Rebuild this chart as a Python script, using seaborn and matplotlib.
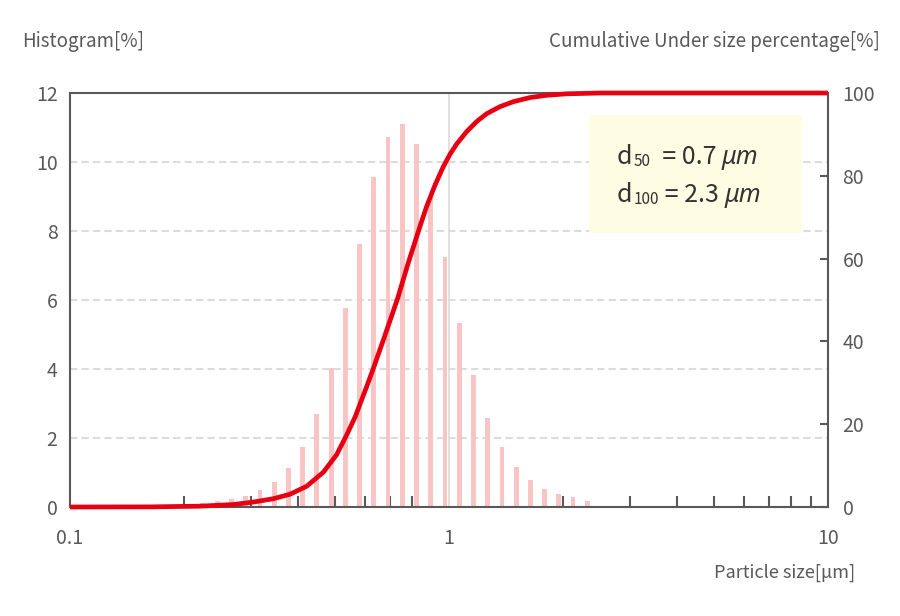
import numpy as np
import matplotlib
matplotlib.use("Agg")
import matplotlib.pyplot as plt
import seaborn as sns
from matplotlib.patches import Rectangle
from matplotlib.ticker import LogLocator, NullFormatter, FixedLocator, FixedFormatter

# histogram bins (particle size in um) and frequency in %
sizes = [0.224, 0.245, 0.267, 0.291, 0.317, 0.346, 0.377, 0.411, 0.448, 0.489,
         0.533, 0.581, 0.633, 0.690, 0.753, 0.821, 0.895, 0.976, 1.064, 1.160,
         1.265, 1.379, 1.504, 1.640, 1.788, 1.949, 2.125, 2.317]
hist_pct = [0.11, 0.18, 0.23, 0.33, 0.49, 0.73, 1.12, 1.75, 2.70, 4.02,
            5.78, 7.62, 9.56, 10.72, 11.10, 10.51, 8.99, 7.26, 5.34, 3.82,
            2.59, 1.73, 1.16, 0.79, 0.53, 0.38, 0.29, 0.17]

# cumulative under size curve
cum_size = [0.1, 0.163, 0.220, 0.270, 0.305, 0.344, 0.381, 0.421, 0.466, 0.505,
            0.537, 0.565, 0.606, 0.626, 0.675, 0.732, 0.781, 0.835, 0.873, 0.919,
            0.966, 1.006, 1.048, 1.114, 1.183, 1.257, 1.363, 1.478, 1.636, 1.811,
            2.045, 2.503, 10.0]
cum_pct = [0.0, 0.03, 0.2, 0.6, 1.2, 2.0, 3.1, 5.0, 8.4, 12.6,
           17.4, 21.7, 29.0, 32.5, 41.0, 50.4, 59.0, 67.3, 72.6, 77.8,
           82.2, 85.2, 87.7, 90.7, 93.1, 95.0, 96.7, 97.9, 98.9, 99.45,
           99.8, 100.0, 100.0]

left_ticks = [0, 2, 4, 6, 8, 10, 12]
right_ticks = [0, 20, 40, 60, 80, 100]
x_major = [0.1, 1, 10]
x_major_labels = ["0.1", "1", "10"]

note_lines = [("50", "  = 0.7 "), ("100", " = 2.3 ")]

sns.set_theme(style="white")
plt.rcParams["font.family"] = ["Noto Sans CJK JP", "DejaVu Sans"]

GRAY = "#595959"
RED = "#E60012"
PINK = "#F9C4C4"
INK = "#333333"

fig = plt.figure(figsize=(9, 6.16), dpi=100)
ax = fig.add_axes([0.07778, 0.17695, 0.84222, 0.67208])
ax.set_xscale("log")

# bars (centred in log space)
h = 0.0062
x = np.array(sizes)
ax.bar(x * 10 ** (-h), np.array(hist_pct), width=x * (10 ** h - 10 ** (-h)),
       align="edge", color=PINK, linewidth=0, zorder=2)

ax.set_xlim(0.1, 10)
ax.set_ylim(0, 12)
ax.xaxis.set_major_locator(FixedLocator(x_major))
ax.xaxis.set_major_formatter(FixedFormatter(x_major_labels))
ax.xaxis.set_minor_locator(LogLocator(base=10, subs=np.arange(2, 10)))
ax.xaxis.set_minor_formatter(NullFormatter())
ax.set_yticks(left_ticks)

ax.tick_params(axis="x", which="major", length=0, pad=15, labelsize=14, labelcolor=GRAY)
ax.tick_params(axis="x", which="minor", direction="in", length=8, width=1.5,
               color=GRAY, bottom=True)
ax.tick_params(axis="y", length=0, pad=9, labelsize=14, labelcolor=GRAY)

ax.set_axisbelow(True)
ax.grid(False)
ax.grid(axis="x", which="major", color="#DCDCDC", lw=1.2, linestyle="-")
ax.grid(axis="y", which="major", color="#DCDCDC", lw=1.5, linestyle=(0, (3.5, 2)))

for sp in ax.spines.values():
    sp.set_color(GRAY)
    sp.set_linewidth(1.5)
    sp.set_visible(True)

# annotation box
ax.add_patch(Rectangle((0.685, 0.662), 0.281, 0.285, transform=ax.transAxes,
                       facecolor="#FEFCE3", edgecolor="none", zorder=3))

# cumulative curve on right axis
ax2 = ax.twinx()
sns.lineplot(x=cum_size, y=cum_pct, ax=ax2, color=RED, linewidth=3.4,
             solid_joinstyle="round", solid_capstyle="butt", zorder=5, clip_on=False)
ax2.set_ylim(0, 100)
ax2.set_xlim(0.1, 10)
ax2.set_yticks(right_ticks)
ax2.set_ylabel("")
ax2.tick_params(axis="y", direction="in", length=6, width=1.5, color=GRAY,
                pad=10.5, labelsize=14, labelcolor=GRAY)
ax2.grid(False)
for sp in ax2.spines.values():
    sp.set_visible(False)

# annotation text
y_pos = [0.828, 0.737]
for (sub, rest), yy in zip(note_lines, y_pos):
    t1 = ax.text(0.7216, yy, "d", transform=ax.transAxes, fontsize=18, color=INK,
                 va="baseline", zorder=6)
    t2 = ax.annotate(sub, xy=(1, 0), xycoords=t1, va="bottom", ha="left",
                     fontsize=11, color=INK, zorder=6, xytext=(1, 0),
                     textcoords="offset points")
    t3 = ax.annotate(rest, xy=(1, 0), xycoords=t2, va="bottom", ha="left",
                     fontsize=18, color=INK, zorder=6)
    ax.annotate("μm", xy=(1, 0), xycoords=t3, va="bottom", ha="left",
                fontsize=18, color=INK, zorder=6,
                family=["Noto Sans", "DejaVu Sans"], style="italic")

fig.text(22 / 900, 1 - 42 / 616, "Histogram[%]", ha="left", va="center",
         fontsize=13.5, color=GRAY)
fig.text(880 / 900, 1 - 42 / 616, "Cumulative Under size percentage[%]", ha="right",
         va="center", fontsize=13.5, color=GRAY)
fig.text(855 / 900, 1 - 573 / 616, "Particle size[μm]", ha="right", va="center",
         fontsize=13, color=GRAY)

fig.savefig("out.png", dpi=100, facecolor="white")
